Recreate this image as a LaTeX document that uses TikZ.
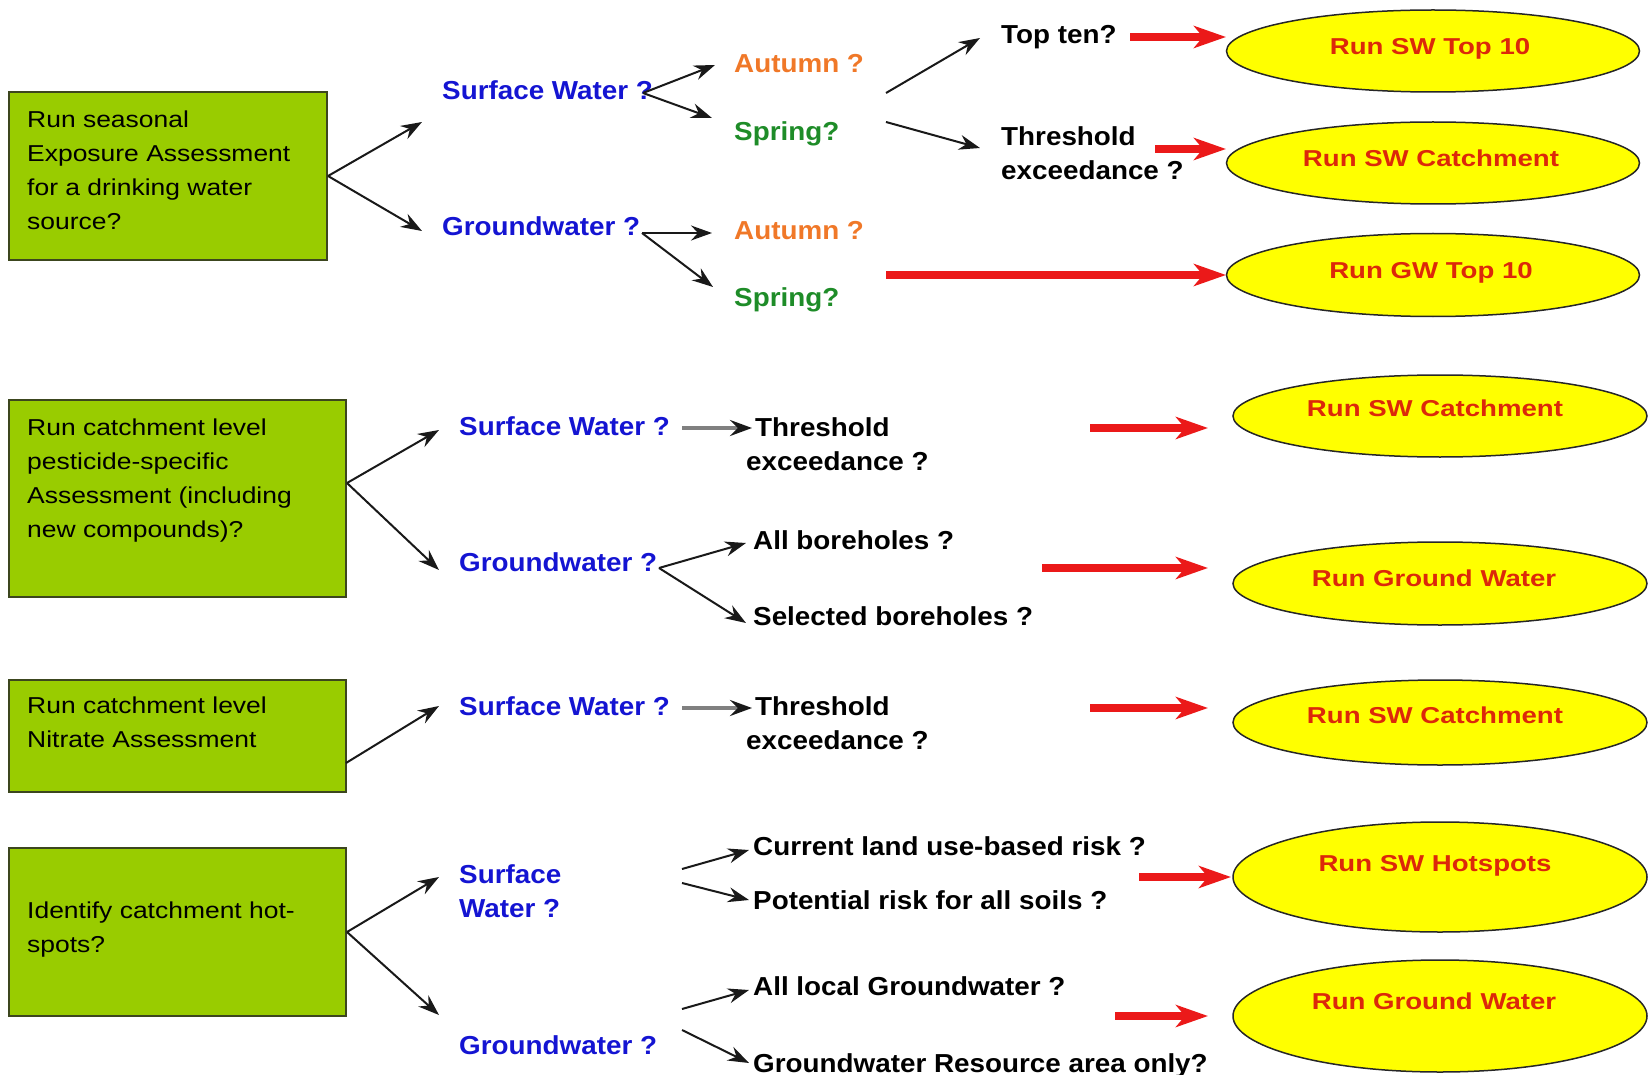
\documentclass[tikz,border=0pt]{standalone}
\usepackage{fontspec}
\setmainfont{Liberation Sans}
\newfontfamily\boxfont{Liberation Sans}[FakeStretch=1.15]
\newfontfamily\lblfont{Liberation Sans}[FakeStretch=1.07]
\newfontfamily\elfont{Liberation Sans}[FakeStretch=1.2]
\usetikzlibrary{shapes.geometric,arrows.meta}
\definecolor{boxgreen}{RGB}{153,204,0}
\definecolor{boxedge}{RGB}{60,70,30}
\definecolor{lblue}{RGB}{20,20,210}
\definecolor{lorange}{RGB}{240,120,40}
\definecolor{lgreen}{RGB}{30,140,40}
\definecolor{arrred}{RGB}{235,25,25}
\definecolor{etext}{RGB}{220,40,10}
\definecolor{eyellow}{RGB}{255,255,0}
\begin{document}
\begin{tikzpicture}[x=1pt,y=-1pt,
  gbox/.style={draw=boxedge, line width=2pt, fill=boxgreen, inner sep=0pt},
  btxt/.style={anchor=north west, inner sep=0pt, align=left, font=\boxfont\fontsize{23}{34}\selectfont},
  lbl/.style={anchor=west, inner sep=0pt, text height=18.6pt, text depth=0pt, font=\lblfont\bfseries\fontsize{26}{34}\selectfont},
  mlbl/.style={anchor=north west, inner sep=0pt, align=left, font=\lblfont\bfseries\fontsize{26}{34}\selectfont},
  ell/.style={ellipse, draw=black!85, line width=1.5pt, fill=eyellow, inner sep=0pt},
  etxt/.style={inner sep=0pt, text height=16.5pt, text depth=0pt, text=etext, font=\elfont\bfseries\fontsize{23}{28}\selectfont},
  barr/.style={-{Stealth[length=21pt,width=15pt,inset=7pt]}, line width=2pt, draw=black!90},
  garr/.style={-{Stealth[length=22pt,width=16pt,inset=8pt,color=black!90]}, line width=4pt, draw=black!50},
  rarr/.style={-{Stealth[length=32pt,width=22pt,inset=9pt]}, line width=7.5pt, draw=arrred},
]
\useasboundingbox (0,0) rectangle (1651,1075);

% ---------- green boxes ----------
\node[gbox, minimum width=318.5pt, minimum height=168pt] (box1) at (167.75,176) {};
\node[gbox, minimum width=337.5pt, minimum height=197pt] (box2) at (177.25,498.5) {};
\node[gbox, minimum width=337.5pt, minimum height=112pt] (box3) at (177.25,736) {};
\node[gbox, minimum width=337.5pt, minimum height=168pt] (box4) at (177.25,932) {};
\node[btxt] (bt1) at (27,110.8) {Run seasonal\\Exposure Assessment\\for a drinking water\\source?};
\node[btxt] (bt2) at (27,418.3) {Run catchment level\\pesticide-specific\\Assessment (including\\new compounds)?};
\node[btxt] (bt3) at (27,696.8) {Run catchment level\\Nitrate Assessment};
\node[btxt] (bt4) at (27,901.8) {Identify catchment hot-\\spots?};

% ---------- labels ----------
\node[lbl, text=lblue] (sw1) at (442,90) {Surface Water ?};
\node[lbl, text=lblue] (gw1) at (442,226) {Groundwater ?};
\node[lbl, text=lorange] (au1) at (734,63.5) {Autumn ?};
\node[lbl, text=lgreen] (sp1) at (734,131) {Spring?};
\node[lbl, text=lorange] (au2) at (734,230) {Autumn ?};
\node[lbl, text=lgreen] (sp2) at (734,297) {Spring?};
\node[lbl] (top) at (1001,34) {Top ten?};
\node[mlbl] (thr1) at (1001,126.2) {Threshold\\exceedance ?};

\node[lbl, text=lblue] (sw2) at (459,426.5) {Surface Water ?};
\node[mlbl] (thr2) at (746,417.2) {\hspace*{9pt}Threshold\\exceedance ?};
\node[lbl, text=lblue] (gw2) at (459,562.5) {Groundwater ?};
\node[lbl] (ab) at (753,540) {All boreholes ?};
\node[lbl] (sb) at (753,616) {Selected boreholes ?};

\node[lbl, text=lblue] (sw3) at (459,706) {Surface Water ?};
\node[mlbl] (thr3) at (746,696.7) {\hspace*{9pt}Threshold\\exceedance ?};

\node[mlbl, text=lblue] (sw4) at (459,864.7) {Surface\\Water ?};
\node[lbl, text=lblue] (gw4) at (459,1045) {Groundwater ?};
\node[lbl] (cl) at (753,846.5) {Current land use-based risk ?};
\node[lbl] (pr) at (753,900) {Potential risk for all soils ?};
\node[lbl] (alg) at (753,986.5) {All local Groundwater ?};
\node[lbl] (grao) at (753,1063) {Groundwater Resource area only?};

% ---------- ellipses ----------
\node[ell, minimum width=413pt, minimum height=82pt] (e1) at (1433,51) {};
\node[ell, minimum width=413pt, minimum height=82pt] (e2) at (1433,163) {};
\node[ell, minimum width=413pt, minimum height=83pt] (e3) at (1433,275) {};
\node[ell, minimum width=414pt, minimum height=82pt] (e4) at (1440,416) {};
\node[ell, minimum width=414pt, minimum height=83pt] (e5) at (1440,583.5) {};
\node[ell, minimum width=414pt, minimum height=85pt] (e6) at (1440,722.5) {};
\node[ell, minimum width=414pt, minimum height=110pt] (e7) at (1440,877) {};
\node[ell, minimum width=414pt, minimum height=112pt] (e8) at (1440,1016) {};
\node[etxt] (t1) at (1430,46.5) {Run SW Top 10};
\node[etxt] (t2) at (1431,158.5) {Run SW Catchment};
\node[etxt] (t3) at (1431,270) {Run GW Top 10};
\node[etxt] (t4) at (1435,408.5) {Run SW Catchment};
\node[etxt] (t5) at (1434,578.5) {Run Ground Water};
\node[etxt] (t6) at (1435,715.5) {Run SW Catchment};
\node[etxt] (t7) at (1435,863) {Run SW Hotspots};
\node[etxt] (t8) at (1434,1001) {Run Ground Water};

% ---------- connector end points ----------
\coordinate (b1u) at (422,122);  \coordinate (b1d) at (422,231);
\coordinate (s1f) at (643,93);   \coordinate (s1u) at (715,65);  \coordinate (s1d) at (712,118);
\coordinate (g1f) at (642,233);  \coordinate (g1r) at (712,233); \coordinate (g1d) at (713,287);
\coordinate (q1a) at (886,93);   \coordinate (q1u) at (980,38);
\coordinate (q1b) at (886,122);  \coordinate (q1d) at (980,148);
\coordinate (b2s) at (347,483);  \coordinate (b2u) at (439,430); \coordinate (b2d) at (439,570);
\coordinate (s2a) at (682,428);  \coordinate (s2b) at (752,428);
\coordinate (g2f) at (659,568);  \coordinate (g2u) at (746,543); \coordinate (g2d) at (746,623);
\coordinate (b3s) at (346,763);  \coordinate (b3u) at (439,706);
\coordinate (s3a) at (682,708);  \coordinate (s3b) at (752,708);
\coordinate (b4u) at (439,877);  \coordinate (b4d) at (439,1015);
\coordinate (s4a) at (682,869);  \coordinate (s4u) at (749,850);
\coordinate (s4b) at (682,883);  \coordinate (s4d) at (749,900);
\coordinate (g4a) at (682,1009); \coordinate (g4u) at (749,990);
\coordinate (g4b) at (682,1030); \coordinate (g4d) at (749,1063);
\coordinate (r1s) at (1130,37);  \coordinate (r1e) at (1226,37);
\coordinate (r2s) at (1155,149); \coordinate (r2e) at (1226,149);
\coordinate (r3s) at (886,275);  \coordinate (r3e) at (1226,275);
\coordinate (r4s) at (1090,428); \coordinate (r4e) at (1208,428);
\coordinate (r5s) at (1042,568); \coordinate (r5e) at (1208,568);
\coordinate (r6s) at (1090,708); \coordinate (r6e) at (1208,708);
\coordinate (r7s) at (1139,877); \coordinate (r7e) at (1231,877);
\coordinate (r8s) at (1115,1016);\coordinate (r8e) at (1208,1016);

% ---------- black arrows ----------
\draw[barr] (box1.east) -- (b1u);
\draw[barr] (box1.east) -- (b1d);
\draw[barr] (s1f) -- (s1u);
\draw[barr] (s1f) -- (s1d);
\draw[barr] (g1f) -- (g1r);
\draw[barr] (g1f) -- (g1d);
\draw[barr] (q1a) -- (q1u);
\draw[barr] (q1b) -- (q1d);
\draw[barr] (b2s) -- (b2u);
\draw[barr] (b2s) -- (b2d);
\draw[barr] (g2f) -- (g2u);
\draw[barr] (g2f) -- (g2d);
\draw[barr] (b3s) -- (b3u);
\draw[barr] (box4.east) -- (b4u);
\draw[barr] (box4.east) -- (b4d);
\draw[barr] (s4a) -- (s4u);
\draw[barr] (s4b) -- (s4d);
\draw[barr] (g4a) -- (g4u);
\draw[barr] (g4b) -- (g4d);
% ---------- grey arrows ----------
\draw[garr] (s2a) -- (s2b);
\draw[garr] (s3a) -- (s3b);
% ---------- red arrows ----------
\draw[rarr] (r1s) -- (r1e);
\draw[rarr] (r2s) -- (r2e);
\draw[rarr] (r3s) -- (r3e);
\draw[rarr] (r4s) -- (r4e);
\draw[rarr] (r5s) -- (r5e);
\draw[rarr] (r6s) -- (r6e);
\draw[rarr] (r7s) -- (r7e);
\draw[rarr] (r8s) -- (r8e);
\end{tikzpicture}
\end{document}
